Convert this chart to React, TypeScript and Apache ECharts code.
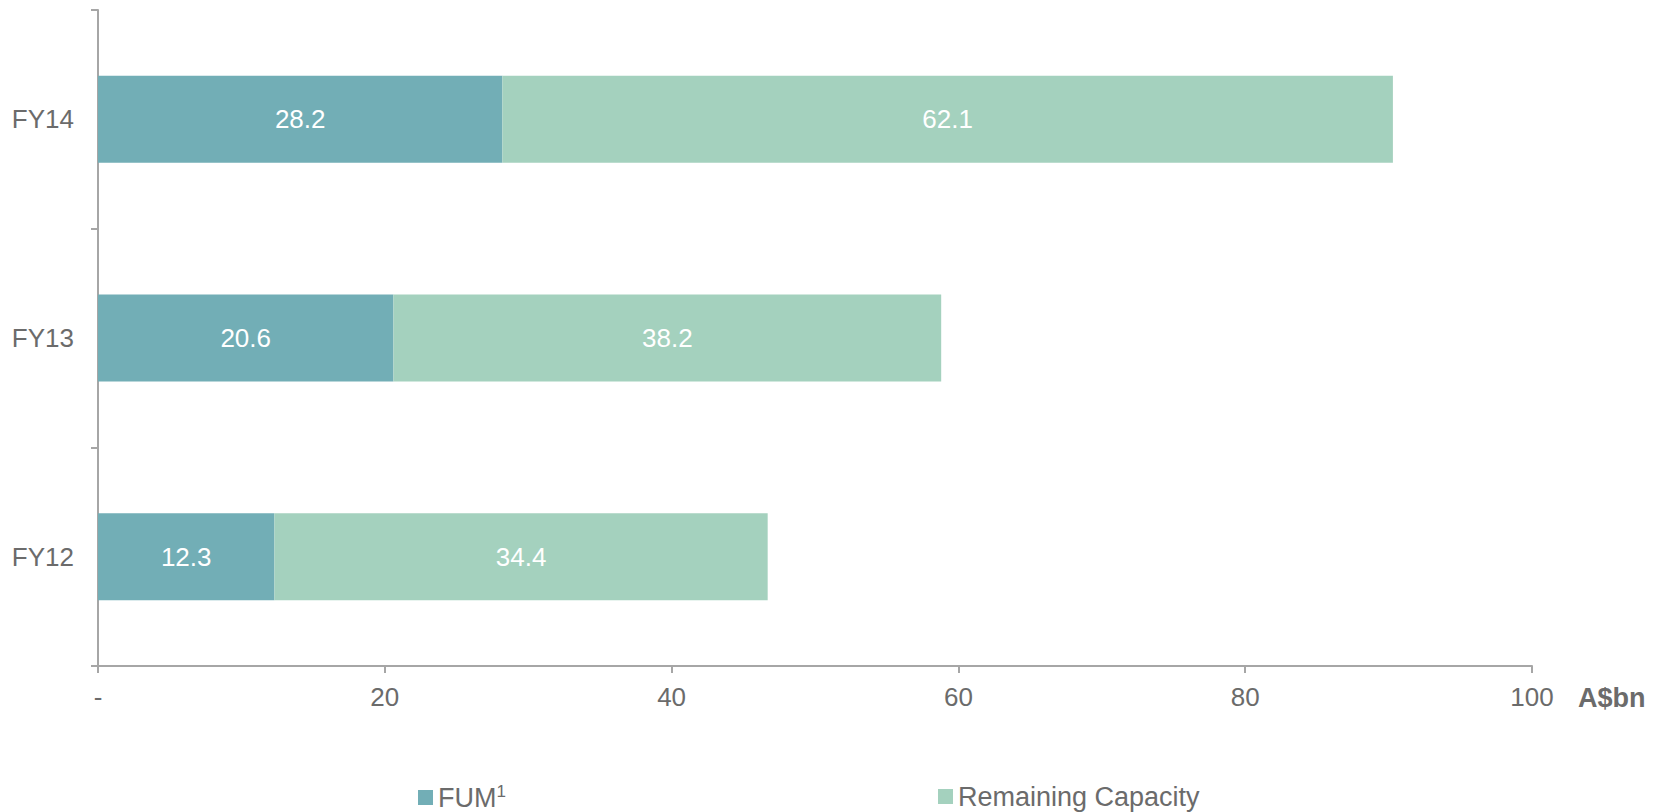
import React, { useEffect, useRef } from "react";
import * as echarts from "echarts";

const categories = ["FY12", "FY13", "FY14"];
const fumValues = [12.3, 20.6, 28.2];
const remainingValues = [34.4, 38.2, 62.1];
const seriesNames = ["FUM", "Remaining Capacity"];
const unitLabel = "A$bn";

const FONT = "'Liberation Sans', Arial, Helvetica, sans-serif";
const TEXT = "#6b6b6b";
const AXIS = "#a6a6a6";
const C1 = "#72aeb6";
const C2 = "#a4d1be";

export default function App() {
  const ref = useRef<HTMLDivElement>(null);
  useEffect(() => {
    if (!ref.current) return;
    const chart = echarts.init(ref.current, null, { renderer: "svg" });
    const legendText = {
      color: TEXT,
      fontSize: 27,
      fontFamily: FONT,
      rich: {
        a: { color: TEXT, fontSize: 27, fontFamily: FONT },
        sup: { color: TEXT, fontSize: 17, fontFamily: FONT, verticalAlign: "top", padding: [0, 0, 12, 0] },
      },
    };
    chart.setOption({
      animation: false,
      textStyle: { fontFamily: FONT },
      grid: { left: 98, right: 135, top: 10, bottom: 146, containLabel: false },
      legend: [
        {
          data: [seriesNames[0]],
          left: 418,
          top: 783,
          padding: 0,
          icon: "rect",
          itemWidth: 15,
          itemHeight: 15,
          textStyle: legendText,
          formatter: (n: string) => `{a|${n}}{sup|1}`,
          selectedMode: false,
        },
        {
          data: [seriesNames[1]],
          left: 938,
          top: 783,
          padding: 0,
          icon: "rect",
          itemWidth: 15,
          itemHeight: 15,
          textStyle: { color: TEXT, fontSize: 27, fontFamily: FONT },
          selectedMode: false,
        },
      ],
      xAxis: {
        type: "value",
        min: 0,
        max: 100,
        interval: 20,
        splitLine: { show: false },
        axisLine: { show: true, lineStyle: { color: AXIS, width: 2 } },
        axisTick: { show: true, length: 7, lineStyle: { color: AXIS, width: 2 } },
        axisLabel: {
          color: TEXT,
          fontSize: 26,
          fontFamily: FONT,
          margin: 18,
          formatter: (v: number) => (v === 0 ? "-" : String(v)),
        },
      },
      yAxis: {
        type: "category",
        data: categories,
        axisLine: { show: true, lineStyle: { color: AXIS, width: 2 } },
        axisTick: { show: true, length: 7, lineStyle: { color: AXIS, width: 2 } },
        axisLabel: { color: TEXT, fontSize: 26, fontFamily: FONT, margin: 24 },
      },
      graphic: [
        {
          type: "text",
          left: 1578,
          top: 684,
          style: { text: unitLabel, fill: TEXT, fontSize: 27, fontWeight: "bold", fontFamily: FONT },
        },
      ],
      series: [
        {
          name: seriesNames[0],
          type: "bar",
          stack: "total",
          data: fumValues,
          barWidth: 87,
          itemStyle: { color: C1 },
          label: { show: true, position: "inside", color: "#fff", fontSize: 26, fontFamily: FONT },
        },
        {
          name: seriesNames[1],
          type: "bar",
          stack: "total",
          data: remainingValues,
          barWidth: 87,
          itemStyle: { color: C2 },
          label: { show: true, position: "inside", color: "#fff", fontSize: 26, fontFamily: FONT },
        },
      ],
    });
    return () => chart.dispose();
  }, []);
  return (
    <div
      ref={ref}
      style={{ position: "fixed", left: 0, top: 0, width: 1667, height: 812, background: "#fff" }}
    />
  );
}
